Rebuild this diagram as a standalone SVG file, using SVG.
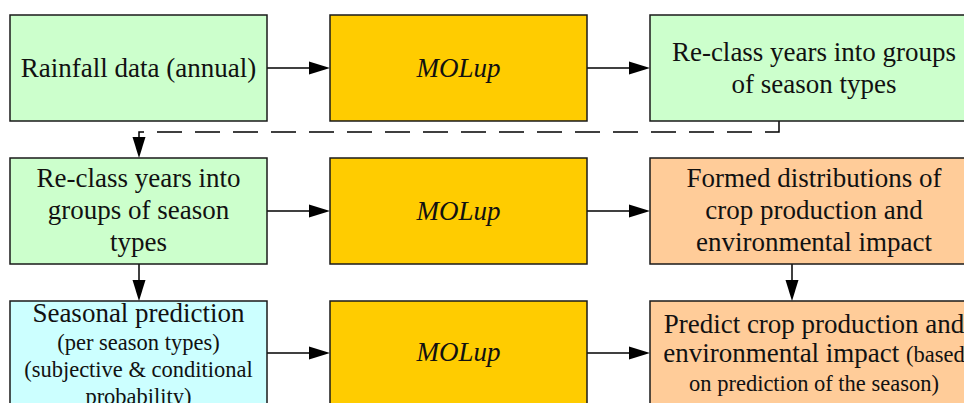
<svg xmlns="http://www.w3.org/2000/svg" width="964" height="403" viewBox="0 0 964 403">
  <defs>
    <marker id="arrow" markerUnits="userSpaceOnUse" markerWidth="21" markerHeight="13" viewBox="0 0 21 13" refX="0" refY="6.5" orient="auto" overflow="visible">
      <path d="M0,0 L21,6.5 L0,13 z" fill="#000"/>
    </marker>
  </defs>
  <style>
    .box { stroke: #1a1a1a; stroke-width: 1.5; }
    .green { fill: #CCFFCC; }
    .gold { fill: #FFCC00; }
    .orange { fill: #FFCC99; }
    .cyan { fill: #CCFFFF; }
    text { font-family: "Liberation Serif", "Times New Roman", serif; font-size: 27px; fill: #111; text-anchor: middle; }
    .it { font-style: italic; }
    .sm { font-size: 22.5px; }
    .conn { stroke: #000; stroke-width: 1.5; fill: none; marker-end: url(#arrow); }
    .dash { stroke-dasharray: 25 13; }
  </style>
  <rect width="964" height="403" fill="#fff"/>

  <g id="connectors">
    <path class="conn" d="M267,68 H309"/>
    <path class="conn" d="M587,68 H629"/>
    <path class="conn dash" d="M779,121 V132 H139 V137"/>
    <path class="conn" d="M267,211 H309"/>
    <path class="conn" d="M587,211 H629"/>
    <path class="conn" d="M139,264 V280"/>
    <path class="conn" d="M792,264 V280"/>
    <path class="conn" d="M267,353 H309"/>
    <path class="conn" d="M587,353 H629"/>
  </g>

  <g id="rainfall">
    <rect class="box green" x="10" y="15" width="257" height="106"/>
    <text x="138.5" y="77">Rainfall data (annual)</text>
  </g>
  <g id="molup1">
    <rect class="box gold" x="330" y="15" width="257" height="106"/>
    <text class="it" x="458.5" y="77">MOLup</text>
  </g>
  <g id="reclass1">
    <rect class="box green" x="650" y="15" width="328" height="106"/>
    <text x="814" y="61">Re-class years into groups</text>
    <text x="814" y="93">of season types</text>
  </g>

  <g id="reclass2">
    <rect class="box green" x="10" y="158" width="257" height="106"/>
    <text x="138.5" y="187">Re-class years into</text>
    <text x="138.5" y="219">groups of season</text>
    <text x="138.5" y="251">types</text>
  </g>
  <g id="molup2">
    <rect class="box gold" x="330" y="158" width="257" height="106"/>
    <text class="it" x="458.5" y="220">MOLup</text>
  </g>
  <g id="distributions">
    <rect class="box orange" x="650" y="158" width="328" height="106"/>
    <text x="814" y="187">Formed distributions of</text>
    <text x="814" y="219">crop production and</text>
    <text x="814" y="251">environmental impact</text>
  </g>

  <g id="seasonal">
    <rect class="box cyan" x="10" y="301" width="257" height="106"/>
    <text x="138.5" y="322">Seasonal prediction</text>
    <text class="sm" x="138.5" y="350">(per season types)</text>
    <text class="sm" x="138.5" y="377">(subjective &amp; conditional</text>
    <text class="sm" x="138.5" y="404">probability)</text>
  </g>
  <g id="molup3">
    <rect class="box gold" x="330" y="301" width="257" height="106"/>
    <text class="it" x="458.5" y="361">MOLup</text>
  </g>
  <g id="predict">
    <rect class="box orange" x="650" y="301" width="328" height="106"/>
    <text x="814" y="333">Predict crop production and</text>
    <text x="814" y="362">environmental impact <tspan class="sm">(based</tspan></text>
    <text class="sm" x="814" y="391">on prediction of the season)</text>
  </g>
</svg>
